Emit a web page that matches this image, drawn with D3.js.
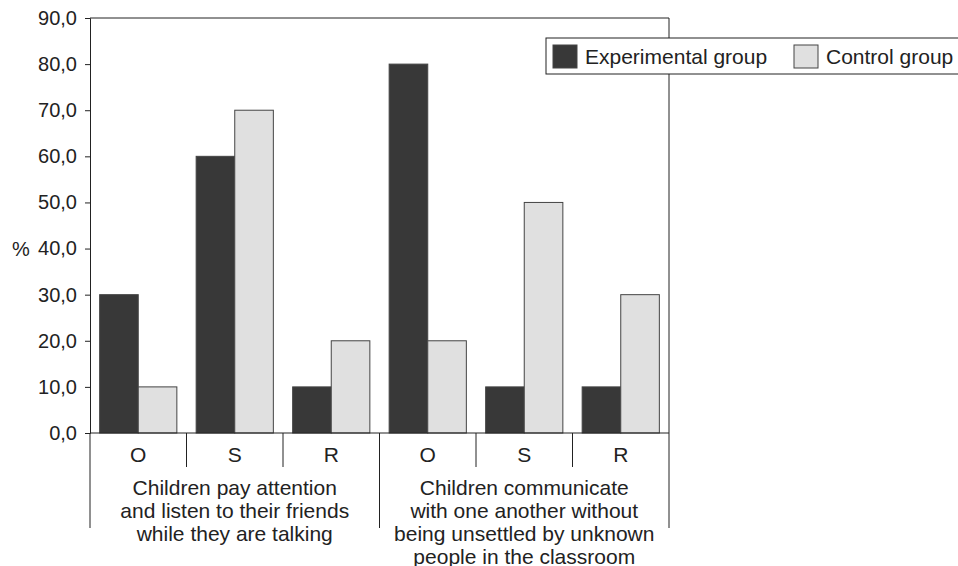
<!DOCTYPE html>
<html>
<head>
<meta charset="utf-8">
<script src="https://cdn.jsdelivr.net/npm/d3@7"></script>
<style>
  body { margin: 0; background: #fff; }
  svg { font-family: "Liberation Sans", Arial, sans-serif; }
</style>
</head>
<body>
<div id="chart"></div>
<script>
// data
var groups = ["Children pay attention\nand listen to their friends\nwhile they are talking",
              "Children communicate\nwith one another without\nbeing unsettled by unknown\npeople in the classroom"];
var subcats = ["O", "S", "R"];
var seriesNames = ["Experimental group", "Control group"];
var experimental = [30, 60, 10, 80, 10, 10];
var control = [10, 70, 20, 20, 50, 30];
var yTicks = [0, 10, 20, 30, 40, 50, 60, 70, 80, 90];

var colors = ["#383838", "#e0e0e0"];

var W = 958, H = 566;
var plotL = 90, plotR = 669, plotT = 18, plotB = 433;

var rows = [];
groups.forEach(function(g, gi) {
  subcats.forEach(function(s, si) {
    var i = gi * 3 + si;
    rows.push({key: i, group: gi, sub: s, values: [experimental[i], control[i]]});
  });
});

var svg = d3.select("#chart").append("svg")
  .attr("width", W).attr("height", H);

var x = d3.scaleBand()
  .domain(rows.map(function(d) { return d.key; }))
  .range([plotL, plotR])
  .paddingInner(0.2)
  .paddingOuter(0.1);

var step = x.step();

var xs = d3.scaleBand()
  .domain([0, 1])
  .range([0, x.bandwidth()]);

var y = d3.scaleLinear()
  .domain([0, 90])
  .range([plotB, plotT]);

// plot frame: top and right
svg.append("path")
  .attr("d", "M" + plotL + "," + plotT + "H" + plotR + "V" + plotB)
  .attr("fill", "none").attr("stroke", "#222").attr("stroke-width", 1);

// bars
var bar = svg.selectAll(".cat")
  .data(rows)
  .enter().append("g")
  .attr("transform", function(d) { return "translate(" + x(d.key) + ",0)"; });

bar.selectAll("rect")
  .data(function(d) { return d.values.map(function(v, i) { return {v: v, s: i}; }); })
  .enter().append("rect")
  .attr("x", function(d) { return xs(d.s); })
  .attr("width", xs.bandwidth())
  .attr("y", function(d) { return y(d.v); })
  .attr("height", function(d) { return plotB - y(d.v); })
  .attr("fill", function(d) { return colors[d.s]; })
  .attr("stroke", "#444")
  .attr("stroke-width", 1);

// y axis
var yAxis = svg.append("g")
  .attr("transform", "translate(" + plotL + ",0)")
  .call(d3.axisLeft(y).tickValues(yTicks).tickSize(5).tickPadding(8)
    .tickFormat(function(d) { return d3.format(".1f")(d).replace(".", ","); }));
yAxis.select(".domain").attr("stroke", "#222");
yAxis.selectAll("line").attr("stroke", "#222");
yAxis.selectAll("text").style("font-size", "20px").attr("fill", "#222");

svg.append("text")
  .attr("x", 12).attr("y", y(40))
  .attr("dy", "0.35em")
  .style("font-size", "20px").attr("fill", "#222")
  .text("%");

// x axis baseline
svg.append("line")
  .attr("x1", plotL).attr("x2", plotR)
  .attr("y1", plotB).attr("y2", plotB)
  .attr("stroke", "#222");

// category separators
var bounds = d3.range(rows.length + 1).map(function(i) { return plotL + i * step; });
svg.selectAll(".sep")
  .data(bounds)
  .enter().append("line")
  .attr("x1", function(d) { return d; }).attr("x2", function(d) { return d; })
  .attr("y1", plotB)
  .attr("y2", function(d, i) { return i % 3 === 0 ? 528 : 467; })
  .attr("stroke", "#222");

// sub-category labels
svg.selectAll(".sub")
  .data(rows)
  .enter().append("text")
  .attr("x", function(d) { return x(d.key) + x.bandwidth() / 2; })
  .attr("y", 455)
  .attr("dy", "0.35em")
  .attr("text-anchor", "middle")
  .style("font-size", "21px").attr("fill", "#222")
  .text(function(d) { return d.sub; });

// group labels
groups.forEach(function(g, gi) {
  var cx = plotL + (gi * 3 + 1.5) * step;
  var t = svg.append("text")
    .attr("text-anchor", "middle")
    .style("font-size", "21px").attr("fill", "#222");
  g.split("\n").forEach(function(line, li) {
    t.append("tspan")
      .attr("x", cx)
      .attr("y", 488 + li * 23)
      .attr("dy", "0.35em")
      .text(line);
  });
});

// legend
var lg = svg.append("g");
lg.append("rect")
  .attr("x", 546).attr("y", 38)
  .attr("width", 420).attr("height", 36)
  .attr("fill", "#fff").attr("stroke", "#222");
var lx = [553, 794];
seriesNames.forEach(function(name, i) {
  lg.append("rect")
    .attr("x", lx[i]).attr("y", 45)
    .attr("width", 24).attr("height", 23)
    .attr("fill", colors[i]).attr("stroke", "#444");
  lg.append("text")
    .attr("x", lx[i] + 32).attr("y", 56.5)
    .attr("dy", "0.35em")
    .style("font-size", "21px").attr("fill", "#222")
    .text(name);
});
</script>
</body>
</html>
